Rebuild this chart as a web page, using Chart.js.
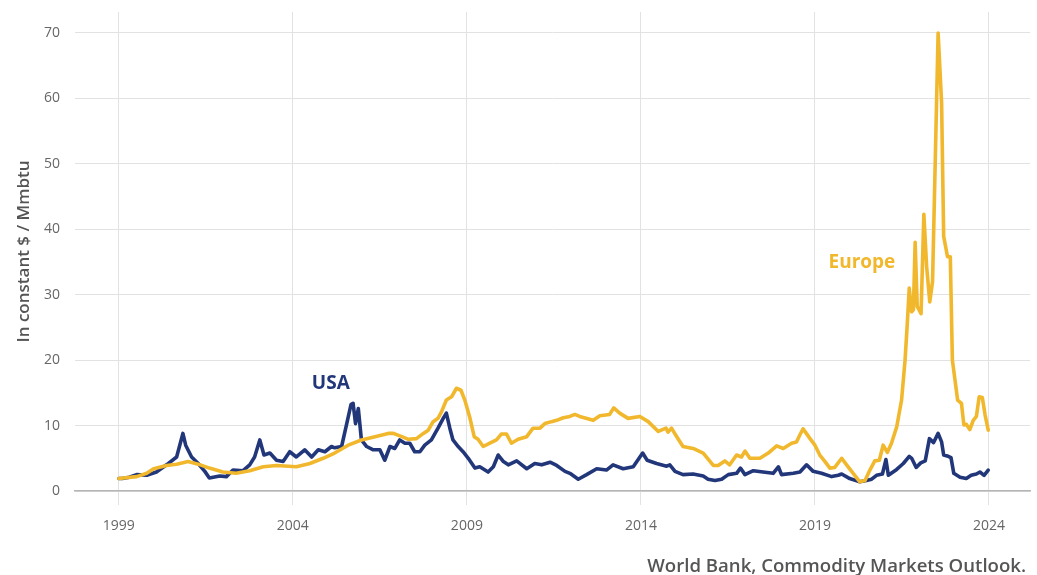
<!DOCTYPE html>
<html>
<head>
<meta charset="utf-8">
<script src="https://cdn.jsdelivr.net/npm/chart.js@4.4.1/dist/chart.umd.min.js"></script>
<style>
html,body{margin:0;padding:0;background:#fff;}
#wrap{width:1037px;height:575px;position:relative;}
</style>
</head>
<body>
<div id="wrap"><canvas id="c" width="1037" height="575"></canvas></div>
<script>
// ---- Data (decimal years, constant $/Mmbtu) ----
const usaDates = [1999.0,1999.1,1999.3,1999.51,1999.8,2000.08,2000.37,2000.66,2000.84,2000.92,2001.09,2001.28,2001.47,2001.6,2001.9,2002.09,2002.28,2002.57,2002.76,2002.9,2003.05,2003.17,2003.34,2003.53,2003.72,2003.91,2004.1,2004.34,2004.54,2004.73,2004.92,2005.11,2005.2,2005.4,2005.54,2005.67,2005.73,2005.8,2005.88,2005.97,2006.12,2006.31,2006.5,2006.64,2006.79,2006.93,2007.07,2007.22,2007.36,2007.5,2007.65,2007.79,2007.98,2008.17,2008.32,2008.41,2008.51,2008.6,2008.75,2008.89,2009.04,2009.23,2009.37,2009.61,2009.76,2009.9,2010.05,2010.19,2010.43,2010.72,2010.95,2011.15,2011.39,2011.58,2011.82,2011.96,2012.2,2012.44,2012.73,2013.01,2013.2,2013.49,2013.78,2014.05,2014.18,2014.45,2014.74,2014.83,2014.98,2015.21,2015.5,2015.79,2015.93,2016.13,2016.32,2016.51,2016.75,2016.86,2016.99,2017.23,2017.51,2017.8,2017.95,2018.04,2018.38,2018.57,2018.76,2018.95,2019.19,2019.48,2019.67,2019.77,2020.0,2020.29,2020.48,2020.63,2020.77,2020.94,2021.04,2021.11,2021.35,2021.54,2021.71,2021.78,2021.91,2022.04,2022.17,2022.29,2022.41,2022.54,2022.64,2022.7,2022.83,2022.91,2022.99,2023.17,2023.35,2023.49,2023.64,2023.74,2023.86,2023.98];
const usaValues = [1.9,1.9,2.1,2.5,2.4,2.9,4.0,5.2,8.8,7.0,5.2,4.2,3.0,2.0,2.3,2.2,3.2,3.1,4.0,5.2,7.8,5.5,5.8,4.7,4.5,6.0,5.2,6.3,5.2,6.3,6.0,6.8,6.6,6.8,10.1,13.2,13.4,10.3,12.6,7.8,6.8,6.3,6.3,4.7,6.8,6.5,7.8,7.3,7.3,6.0,6.0,7.0,7.8,9.6,11.1,11.9,9.6,7.8,6.8,6.0,5.0,3.5,3.7,2.9,3.7,5.5,4.5,4.0,4.6,3.4,4.2,4.0,4.4,3.9,3.0,2.7,1.8,2.5,3.4,3.2,4.0,3.4,3.7,5.8,4.7,4.2,3.8,4.0,3.0,2.5,2.6,2.3,1.8,1.6,1.8,2.5,2.7,3.5,2.5,3.1,2.9,2.7,3.7,2.5,2.7,2.9,4.0,3.0,2.7,2.2,2.4,2.6,1.9,1.4,1.6,1.8,2.4,2.6,4.8,2.4,3.3,4.2,5.3,5.0,3.6,4.3,4.6,8.0,7.4,8.8,7.5,5.5,5.3,5.1,2.7,2.1,1.9,2.4,2.6,2.9,2.4,3.2];

const europeDates = [1999.0,1999.51,1999.8,2000.0,2000.37,2000.66,2000.99,2001.28,2001.6,2001.99,2002.37,2002.76,2003.15,2003.53,2004.1,2004.49,2004.87,2005.2,2005.59,2005.97,2006.36,2006.74,2006.89,2007.13,2007.32,2007.55,2007.75,2007.89,2008.03,2008.17,2008.27,2008.41,2008.56,2008.7,2008.83,2008.94,2009.09,2009.21,2009.32,2009.47,2009.66,2009.85,2009.99,2010.14,2010.28,2010.47,2010.72,2010.9,2011.1,2011.24,2011.43,2011.58,2011.77,2011.96,2012.1,2012.24,2012.63,2012.82,2013.1,2013.22,2013.39,2013.63,2013.97,2014.21,2014.5,2014.72,2014.78,2014.88,2015.03,2015.21,2015.5,2015.79,2016.08,2016.22,2016.41,2016.55,2016.75,2016.89,2016.99,2017.13,2017.42,2017.66,2017.9,2018.09,2018.33,2018.47,2018.57,2018.66,2018.86,2019.0,2019.14,2019.29,2019.43,2019.57,2019.77,2019.91,2020.1,2020.29,2020.44,2020.58,2020.72,2020.85,2020.96,2021.08,2021.2,2021.35,2021.49,2021.59,2021.66,2021.71,2021.78,2021.83,2021.88,2021.94,2022.05,2022.13,2022.21,2022.3,2022.38,2022.54,2022.64,2022.7,2022.81,2022.89,2022.95,2023.1,2023.21,2023.28,2023.35,2023.45,2023.55,2023.64,2023.72,2023.81,2023.89,2023.98];
const europeValues = [1.9,2.2,2.7,3.4,3.9,4.1,4.5,4.1,3.5,2.9,2.7,3.1,3.7,3.9,3.7,4.2,5.0,5.8,7.0,7.8,8.3,8.8,8.8,8.3,7.9,8.0,8.8,9.3,10.6,11.1,12.1,13.9,14.4,15.7,15.4,13.9,11.1,8.3,7.9,6.8,7.3,7.8,8.7,8.7,7.3,7.9,8.3,9.6,9.6,10.3,10.6,10.8,11.2,11.4,11.7,11.4,10.8,11.5,11.7,12.7,11.9,11.1,11.4,10.6,9.1,9.6,9.0,9.6,8.3,6.8,6.5,5.8,3.9,3.9,4.6,4.0,5.5,5.2,6.1,5.0,5.0,5.8,6.9,6.5,7.3,7.5,8.6,9.5,8.0,7.0,5.5,4.5,3.5,3.6,5.0,4.0,2.7,1.4,1.6,3.2,4.6,4.7,7.0,5.9,7.3,9.8,13.9,20.0,26.1,31.0,27.4,27.7,38.0,28.2,27.1,42.3,34.3,28.9,32.0,70.0,59.3,38.9,35.8,35.8,20.0,13.9,13.4,10.1,10.2,9.4,10.8,11.4,14.4,14.3,11.6,9.3];

const xTickValues = [1999, 2004, 2009, 2014, 2019, 2024];
const yTickValues = [0, 10, 20, 30, 40, 50, 60, 70];

const USA_COLOR = '#22367a';
const EU_COLOR = '#f1b82d';

const toPoints = (xs, ys) => xs.map((x, i) => ({ x: x, y: ys[i] }));

const labelsPlugin = {
  id: 'labels',
  afterDatasetsDraw(chart) {
    const ctx = chart.ctx, xs = chart.scales.x, ys = chart.scales.y;
    ctx.save();
    ctx.font = 'bold 19px "Open Sans"';
    ctx.textAlign = 'center';
    ctx.textBaseline = 'middle';
    ctx.fillStyle = USA_COLOR;
    ctx.fillText('USA', xs.getPixelForValue(2005.09), ys.getPixelForValue(16.35));
    ctx.fillStyle = EU_COLOR;
    ctx.fillText('Europe', xs.getPixelForValue(2020.35), ys.getPixelForValue(34.85));
    ctx.restore();
  },
  afterDraw(chart) {
    const ctx = chart.ctx;
    ctx.save();
    ctx.font = '600 18.6px "Open Sans"';
    ctx.fillStyle = '#555';
    ctx.textAlign = 'right';
    ctx.textBaseline = 'alphabetic';
    ctx.fillText('World Bank, Commodity Markets Outlook.', 1026, 572);
    ctx.restore();
  }
};

new Chart(document.getElementById('c'), {
  type: 'line',
  data: {
    datasets: [
      { label: 'Europe', data: toPoints(europeDates, europeValues), borderColor: EU_COLOR, borderWidth: 3.6, pointRadius: 0, tension: 0, borderJoinStyle: 'round', borderCapStyle: 'round', fill: false },
      { label: 'USA', data: toPoints(usaDates, usaValues), borderColor: USA_COLOR, borderWidth: 3.6, pointRadius: 0, tension: 0, borderJoinStyle: 'round', borderCapStyle: 'round', fill: false }
    ]
  },
  options: {
    responsive: false,
    animation: false,
    devicePixelRatio: 1,
    layout: { padding: { left: 0, right: 7, top: 12, bottom: 0 } },
    plugins: { legend: { display: false }, tooltip: { enabled: false } },
    scales: {
      x: {
        type: 'linear',
        min: 1997.74,
        max: 2025.18,
        afterBuildTicks: (s) => { s.ticks = xTickValues.map(v => ({ value: v })); },
        afterFit: (s) => { s.height = 84; s.paddingLeft = 0; s.paddingRight = 0; },
        ticks: { color: '#666', font: { family: 'Open Sans', size: 14 }, padding: 13, maxRotation: 0, autoSkip: false, callback: (v) => String(v) },
        grid: { color: '#e2e2e2', lineWidth: 1, tickLength: 14, drawTicks: true },
        border: { display: true, color: '#b5b5b5', width: 1.5 }
      },
      y: {
        type: 'linear',
        min: 0,
        max: 73.2,
        afterBuildTicks: (s) => { s.ticks = yTickValues.map(v => ({ value: v })); },
        afterFit: (s) => { s.width = 75; s.paddingTop = 0; s.paddingBottom = 0; },
        ticks: { color: '#666', font: { family: 'Open Sans', size: 14 }, padding: 15 },
        grid: { color: '#e2e2e2', lineWidth: 1, drawTicks: false },
        border: { display: false },
        title: { display: true, text: 'In constant $ / Mmbtu', color: '#555', font: { family: 'Open Sans', size: 17, weight: '600' }, padding: { top: 14, bottom: 0 } }
      }
    }
  },
  plugins: [labelsPlugin]
});
</script>
</body>
</html>
